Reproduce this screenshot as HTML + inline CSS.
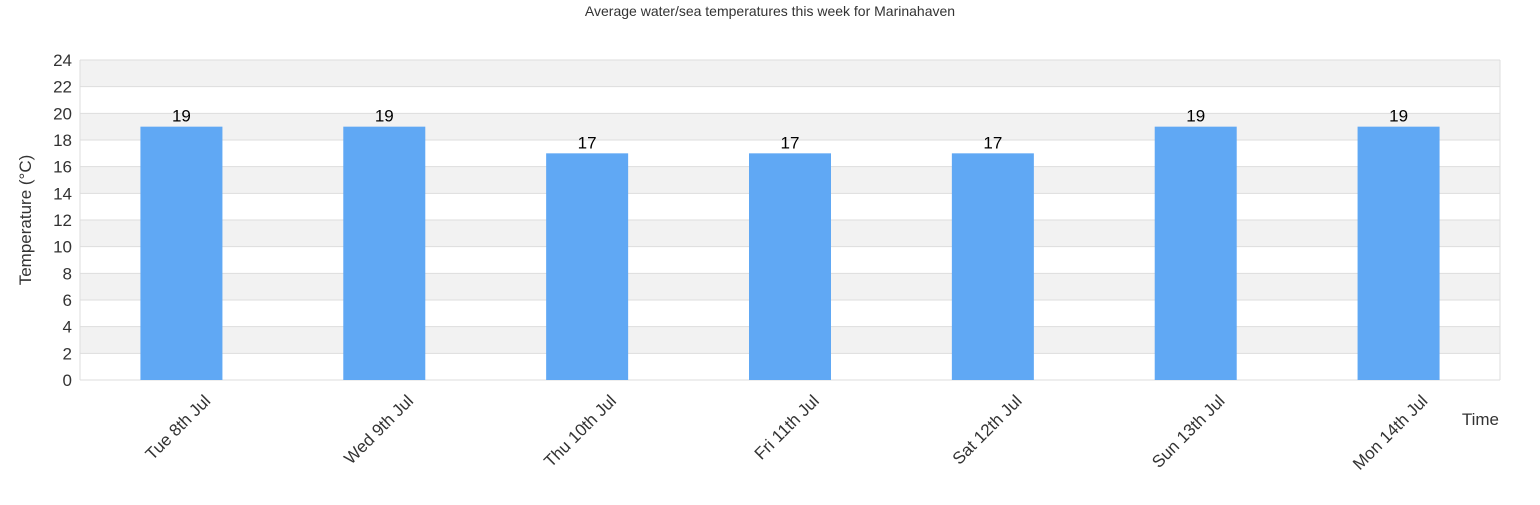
<!DOCTYPE html>
<html><head><meta charset="utf-8"><style>
body{margin:0;background:#fff;font-family:"Liberation Sans",Arial,sans-serif}
svg text{font-family:"Liberation Sans",Arial,sans-serif}
</style></head><body>
<svg id="c" width="1540" height="500">
<text x="770" y="16" text-anchor="middle" font-size="14" fill="#333">Average water/sea temperatures this week for Marinahaven</text>
<text transform="translate(31,220) rotate(-90)" text-anchor="middle" font-size="17" fill="#333">Temperature (°C)</text>
<text x="1499" y="425" text-anchor="end" font-size="17" fill="#333">Time</text>
<g id="grid"></g><g id="bars"></g><g id="labels"></g>
</svg>
<script>
const categories=["Tue 8th Jul","Wed 9th Jul","Thu 10th Jul","Fri 11th Jul","Sat 12th Jul","Sun 13th Jul","Mon 14th Jul"];
const temps=[19,19,17,17,17,19,19];
const yTicks=[0,2,4,6,8,10,12,14,16,18,20,22,24];
const L=80,R=1500,T=60,B=380,yMax=24;
const NS="http://www.w3.org/2000/svg";
const y=v=>B-(v/yMax)*(B-T);
const bw=(R-L)/categories.length;
const xc=i=>L+bw*(i+0.5);
function mk(t,a,p){const e=document.createElementNS(NS,t);for(const k in a)e.setAttribute(k,a[k]);p.appendChild(e);return e;}
const g=document.getElementById('grid');
for(let i=0;i<yTicks.length-1;i++){
 if(i%2===1){const r=mk('rect',{x:L,y:y(yTicks[i+1]),width:R-L,height:y(yTicks[i])-y(yTicks[i+1]),fill:'#f2f2f2'},g);
 
 }
}
yTicks.forEach(v=>{
 const l=mk('line',{x1:L,x2:R,y1:y(v),y2:y(v),stroke:'#ddd','stroke-width':1},g);
 
 
 const t=mk('text',{x:72,y:y(v)+6,'text-anchor':'end','font-size':17,fill:'#333'},g);
 t.textContent=v;
 
 
});
mk('line',{x1:L,x2:L,y1:T,y2:B,stroke:'#ddd'},g);
mk('line',{x1:R,x2:R,y1:T,y2:B,stroke:'#ddd'},g);
const bg=document.getElementById('bars'),lg=document.getElementById('labels');
temps.forEach((v,i)=>{
 const r=mk('rect',{x:xc(i)-41,y:y(v),width:82,height:B-y(v),fill:'#60a8f4'},bg);
 
 
 const t=mk('text',{x:xc(i),y:y(v)-5,'text-anchor':'middle','font-size':17,fill:'#000'},lg);
 t.textContent=v;
 
 
 const c=mk('text',{transform:`translate(${xc(i)+30},${B+22}) rotate(-45)`,'text-anchor':'end','font-size':17,fill:'#333'},lg);
 c.textContent=categories[i];
 
 
});
</script>
</body></html>
